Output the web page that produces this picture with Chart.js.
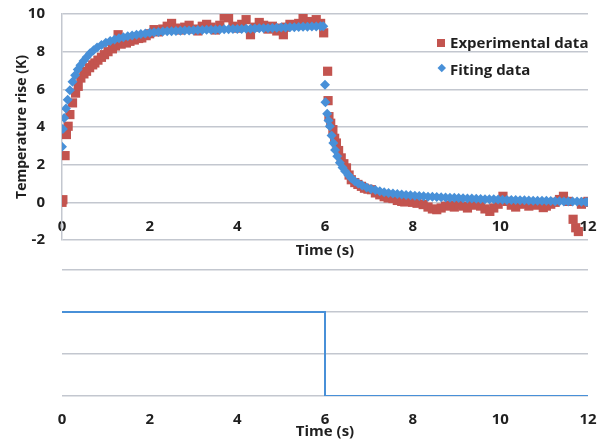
<!DOCTYPE html>
<html>
<head>
<meta charset="utf-8">
<script src="https://cdn.jsdelivr.net/npm/chart.js@4.4.1/dist/chart.umd.min.js"></script>
<style>
  html, body { margin: 0; padding: 0; background: #ffffff; }
  #wrap { position: relative; width: 601px; height: 441px; overflow: hidden; }
  canvas { position: absolute; left: 0; }
  #top { top: 0; }
  #bottom { top: 260px; }
  .lg { position: absolute; font-family: "Open Sans", sans-serif; font-weight: bold; font-size: 15px; line-height: 18px; color: #1f1f1f; white-space: nowrap; }
  .mk { position: absolute; }
</style>
</head>
<body>
<div id="wrap">
  <canvas id="top" width="601" height="260"></canvas>
  <canvas id="bottom" width="601" height="181"></canvas>
  <div id="legend"></div>
</div>
<script>
// ---------- data ----------
const xTicks = [0, 2, 4, 6, 8, 10, 12];
const yTicks = [-2, 0, 2, 4, 6, 8, 10];

const seriesNames = ["Experimental data", "Fiting data"];

const expTime = [
  0.00, 0.02, 0.07, 0.10, 0.14, 0.18, 0.24, 0.31, 0.37, 0.43, 0.50, 0.56, 0.63, 0.70, 0.75, 0.82, 0.90, 0.97,
  1.05, 1.15, 1.22, 1.28, 1.35, 1.47, 1.55, 1.65, 1.75, 1.82, 1.92, 2.00, 2.10, 2.20, 2.30, 2.40, 2.50, 2.60,
  2.70, 2.80, 2.90, 3.00, 3.10, 3.20, 3.30, 3.40, 3.50, 3.60, 3.70, 3.80, 3.90, 4.00, 4.10, 4.20, 4.30, 4.40,
  4.50, 4.60, 4.70, 4.80, 4.90, 5.00, 5.05, 5.10, 5.20, 5.30, 5.40, 5.50, 5.60, 5.70, 5.80, 5.90, 5.97,
  6.06, 6.07, 6.09, 6.13, 6.18, 6.22, 6.26, 6.31, 6.37, 6.43, 6.49, 6.55, 6.60, 6.68, 6.75, 6.83, 6.90, 6.98,
  7.06, 7.15, 7.25, 7.35, 7.44, 7.55, 7.65, 7.75, 7.82, 7.90, 8.00, 8.10, 8.24, 8.35, 8.45, 8.55, 8.65, 8.75,
  8.85, 8.95, 9.05, 9.15, 9.25, 9.35, 9.45, 9.55, 9.65, 9.76, 9.85, 9.95, 10.06, 10.15, 10.25, 10.35, 10.45,
  10.55, 10.65, 10.75, 10.85, 10.98, 11.05, 11.15, 11.25, 11.35, 11.44, 11.55, 11.66, 11.72, 11.78, 11.85,
  11.92, 12.00
];
const expTemp = [
  0.00, 0.14, 2.48, 3.60, 4.04, 4.66, 5.28, 5.80, 6.16, 6.60, 6.82, 6.96, 7.15, 7.30, 7.40, 7.55, 7.70, 7.84,
  8.00, 8.15, 8.30, 8.90, 8.40, 8.46, 8.55, 8.62, 8.70, 8.73, 8.85, 8.95, 9.17, 9.05, 9.20, 9.35, 9.50, 9.25,
  9.15, 9.30, 9.40, 9.20, 9.10, 9.35, 9.45, 9.30, 9.15, 9.40, 9.88, 9.80, 9.35, 9.25, 9.45, 9.70, 8.90, 9.30,
  9.55, 9.40, 9.20, 9.35, 9.10, 9.25, 8.90, 9.30, 9.45, 9.40, 9.50, 9.88, 9.60, 9.45, 9.70, 9.50, 9.00,
  6.96, 5.40, 4.55, 4.20, 3.86, 3.40, 3.15, 2.75, 2.36, 2.05, 1.83, 1.45, 1.20, 1.05, 0.95, 0.85, 0.75, 0.70,
  0.67, 0.50, 0.40, 0.30, 0.23, 0.20, 0.10, 0.05, 0.02, 0.10, 0.00, -0.05, -0.12, -0.25, -0.35, -0.39, -0.30, -0.20,
  -0.15, -0.25, -0.10, -0.20, -0.30, -0.15, -0.05, -0.20, -0.35, -0.48, -0.30, -0.10, 0.32, 0.05, -0.15, -0.25, -0.10,
  -0.05, -0.20, -0.10, -0.15, -0.28, -0.20, -0.10, 0.00, 0.15, 0.32, 0.05, -0.90, -1.35, -1.55, -0.10,
  0.00, 0.05
];

const fitTime = [
  0.00, 0.02, 0.05, 0.09, 0.13, 0.18, 0.24, 0.30, 0.36, 0.42, 0.49, 0.56, 0.64, 0.72, 0.80, 0.90, 1.00,
  1.1, 1.2, 1.3, 1.4, 1.5, 1.6, 1.7, 1.8, 1.9, 2.0, 2.1, 2.2, 2.3, 2.4, 2.5, 2.6, 2.7, 2.8, 2.9, 3.0,
  3.1, 3.2, 3.3, 3.4, 3.5, 3.6, 3.7, 3.8, 3.9, 4.0, 4.1, 4.2, 4.3, 4.4, 4.5, 4.6, 4.7, 4.8, 4.9, 5.0,
  5.1, 5.2, 5.3, 5.4, 5.5, 5.6, 5.7, 5.8, 5.9, 5.96,
  6.00, 6.01, 6.05, 6.08, 6.11, 6.15, 6.19, 6.23, 6.28, 6.34, 6.40, 6.46, 6.53, 6.60, 6.68, 6.76, 6.85, 6.95,
  7.05, 7.15, 7.25, 7.35, 7.45, 7.55, 7.65, 7.75, 7.85, 7.95, 8.05, 8.15, 8.25, 8.35, 8.45, 8.55, 8.65, 8.75,
  8.85, 8.95, 9.05, 9.15, 9.25, 9.35, 9.45, 9.55, 9.65, 9.75, 9.85, 9.95, 10.05, 10.15, 10.25, 10.35, 10.45,
  10.55, 10.65, 10.75, 10.85, 10.95, 11.05, 11.15, 11.25, 11.35, 11.45, 11.55, 11.65, 11.75, 11.85, 11.95, 12.00
];
const fitTemp = [
  2.95, 3.90, 4.48, 4.98, 5.45, 5.95, 6.40, 6.75, 7.05, 7.28, 7.50, 7.70, 7.92, 8.08, 8.22, 8.36, 8.48,
  8.57, 8.65, 8.71, 8.77, 8.82, 8.86, 8.90, 8.94, 8.97, 9.00, 9.03, 9.05, 9.07, 9.08, 9.09, 9.10, 9.11, 9.12, 9.13, 9.14,
  9.15, 9.15, 9.16, 9.17, 9.17, 9.18, 9.19, 9.19, 9.20, 9.20, 9.21, 9.22, 9.22, 9.23, 9.24, 9.24, 9.25, 9.26, 9.27, 9.28,
  9.28, 9.29, 9.30, 9.31, 9.32, 9.32, 9.33, 9.34, 9.35, 9.35,
  6.25, 5.31, 4.71, 4.35, 4.04, 3.55, 3.15, 2.78, 2.45, 2.10, 1.85, 1.65, 1.45, 1.28, 1.12, 1.00, 0.90, 0.79,
  0.71, 0.65, 0.59, 0.54, 0.50, 0.47, 0.44, 0.41, 0.39, 0.37, 0.35, 0.33, 0.32, 0.30, 0.29, 0.28, 0.27, 0.26,
  0.25, 0.24, 0.23, 0.22, 0.21, 0.20, 0.19, 0.18, 0.17, 0.16, 0.16, 0.15, 0.14, 0.13, 0.13, 0.12, 0.11,
  0.11, 0.10, 0.09, 0.09, 0.08, 0.08, 0.07, 0.06, 0.06, 0.05, 0.05, 0.04, 0.04, 0.03, 0.02, 0.02
];

// heating pulse (lower panel)
const pulseTime  = [0, 6, 6, 12];
const pulseLevel = [2, 2, 0, 0];
const pulseTicks = [0, 1, 2, 3];

// ---------- style ----------
const RED = "#c3544f";
const BLUE = "#4890d8";
const GRID = "#c3c7cf";
const TEXT = "#1f1f1f";
const FONT = "'Open Sans', sans-serif";

const toPts = (xs, ys) => xs.map((x, i) => ({ x: x, y: ys[i] }));
const noPad = (s) => { s.paddingLeft = 0; s.paddingRight = 0; s.paddingTop = 0; s.paddingBottom = 0; };

new Chart(document.getElementById("top"), {
  type: "scatter",
  data: {
    datasets: [
      {
        label: seriesNames[1],
        data: toPts(fitTime, fitTemp),
        pointStyle: "rectRot",
        pointRadius: 5,
        pointBorderWidth: 0,
        backgroundColor: BLUE,
        borderColor: BLUE,
        order: 0
      },
      {
        label: seriesNames[0],
        data: toPts(expTime, expTemp),
        pointStyle: "rect",
        pointRadius: 6.5,
        pointBorderWidth: 0,
        backgroundColor: RED,
        borderColor: RED,
        order: 1
      }
    ]
  },
  options: {
    responsive: false,
    animation: false,
    layout: { padding: { left: 0, right: 13, top: 14, bottom: 0 } },
    plugins: { legend: { display: false }, tooltip: { enabled: false } },
    scales: {
      x: {
        type: "linear",
        position: { y: 0 },
        min: xTicks[0],
        max: xTicks[xTicks.length - 1],
        afterBuildTicks: (s) => { s.ticks = xTicks.map(v => ({ value: v })); },
        ticks: { padding: 15, color: TEXT, font: { family: FONT, size: 15, weight: "bold" } },
        grid: { display: false, drawTicks: false },
        border: { display: false },
        afterFit: (s) => { s.height = 0; noPad(s); }
      },
      xt: {
        type: "linear",
        position: "bottom",
        min: xTicks[0],
        max: xTicks[xTicks.length - 1],
        ticks: { display: false },
        grid: { display: false, drawTicks: false },
        border: { display: false },
        title: { display: true, text: "Time (s)", color: TEXT, font: { family: FONT, size: 15, weight: "bold" }, padding: { top: 0, bottom: 0 } },
        afterFit: (s) => { s.height = 20; noPad(s); }
      },
      y: {
        type: "linear",
        min: yTicks[0],
        max: yTicks[yTicks.length - 1],
        afterBuildTicks: (s) => { s.ticks = yTicks.map(v => ({ value: v })); },
        ticks: { padding: 17, color: TEXT, font: { family: FONT, size: 15, weight: "bold" } },
        grid: { color: GRID, lineWidth: 1.5, drawTicks: false },
        border: { display: true, color: GRID, width: 1.5 },
        title: { display: true, text: "Temperature rise (K)", color: TEXT, font: { family: FONT, size: 14, weight: "bold" }, padding: { top: 13.6, bottom: 0 } },
        afterFit: (s) => { s.width = 62; noPad(s); }
      }
    }
  }
});

new Chart(document.getElementById("bottom"), {
  type: "scatter",
  data: {
    datasets: [{
      data: toPts(pulseTime, pulseLevel),
      showLine: true,
      borderColor: BLUE,
      borderWidth: 2,
      pointRadius: 0,
      fill: false
    }]
  },
  options: {
    responsive: false,
    animation: false,
    layout: { padding: { left: 62, right: 13, top: 10, bottom: 0 } },
    plugins: { legend: { display: false }, tooltip: { enabled: false } },
    scales: {
      x: {
        type: "linear",
        position: "bottom",
        min: xTicks[0],
        max: xTicks[xTicks.length - 1],
        afterBuildTicks: (s) => { s.ticks = xTicks.map(v => ({ value: v })); },
        ticks: { padding: 14.5, color: TEXT, font: { family: FONT, size: 15, weight: "bold" } },
        grid: { display: false, drawTicks: false },
        border: { display: false },
        title: { display: true, text: "Time (s)", color: TEXT, font: { family: FONT, size: 15, weight: "bold" }, padding: { top: 0, bottom: 0 } },
        afterFit: (s) => { s.height = 45; noPad(s); }
      },
      y: {
        type: "linear",
        min: pulseTicks[0],
        max: pulseTicks[pulseTicks.length - 1],
        afterBuildTicks: (s) => { s.ticks = pulseTicks.map(v => ({ value: v })); },
        ticks: { display: false },
        grid: { color: GRID, lineWidth: 1.5, drawTicks: false },
        border: { display: false },
        afterFit: (s) => { s.width = 0; noPad(s); }
      }
    }
  }
});

// legend (HTML text)
const lg = document.getElementById("legend");
lg.innerHTML =
  '<div class="mk" style="left:437px;top:39px;width:8px;height:8px;background:' + RED + '"></div>' +
  '<div class="lg" style="left:450px;top:33px">' + seriesNames[0] + '</div>' +
  '<div class="mk" style="left:439px;top:65px;width:5.5px;height:5.5px;background:' + BLUE + ';transform:rotate(45deg)"></div>' +
  '<div class="lg" style="left:450px;top:59.5px">' + seriesNames[1] + '</div>';
</script>
</body>
</html>
